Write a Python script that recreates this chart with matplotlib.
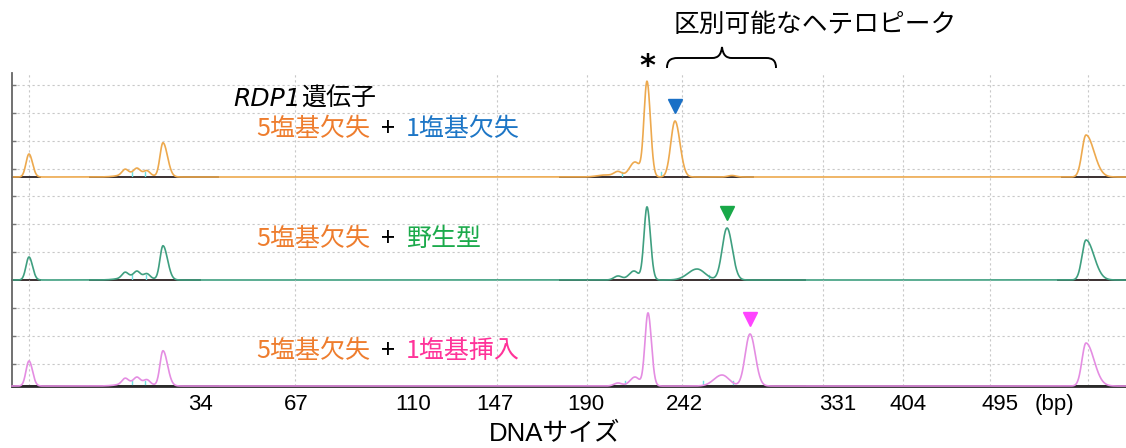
import matplotlib
matplotlib.use('Agg')
import matplotlib.pyplot as plt
from matplotlib.path import Path
from matplotlib.patches import PathPatch
import numpy as np

JP = ['Noto Sans CJK JP', 'DejaVu Sans']
LAT = ['Liberation Sans', 'Noto Sans CJK JP']
plt.rcParams['font.family'] = JP

# scan axis of the electropherogram window (scan points)
scan_min, scan_max = 12, 1126

# size ladder labels and where they sit on the scan axis
size_labels = ['34', '67', '110', '147', '190', '242', '331', '404', '495', '(bp)']
size_label_pos = [200, 296, 413, 495, 586, 684, 838, 908, 1000, 1054]
grid_x = [29, 200, 295, 413, 497, 587, 682, 823, 903, 990, 1088]

# peaks: (scan position, height rfu, left width, right width)
peaks_del1 = [(29, 23, 3.0, 3.5), (125, 5, 3, 3), (137, 5, 3, 3), (147, 4, 3, 3),
              (135, 4, 12, 12), (163, 34, 3.0, 4.5), (605, 2, 8, 8), (618, 5, 4, 4),
              (635, 15, 5.5, 5), (647, 95, 3.0, 3.4), (675, 56, 4.2, 5.0),
              (732, 1.5, 4, 4), (1086, 42, 4, 8)]
peaks_wt = [(29, 23, 3.0, 3.5), (125, 5, 3, 3), (137, 5, 3, 3), (147, 4, 3, 3),
            (135, 4, 12, 12), (163, 34, 3.0, 4.5), (618, 4, 4, 4), (634, 9, 5, 4.5),
            (647, 73, 3.0, 3.4), (697, 11, 9, 8), (727, 52, 4.8, 5.3),
            (1086, 40, 4, 8)]
peaks_ins1 = [(29, 25, 3.0, 3.5), (125, 5, 3, 3), (137, 5, 3, 3), (147, 4, 3, 3),
              (135, 4, 12, 12), (163, 35, 3.0, 4.5), (618, 3, 4, 4), (635, 9, 5, 4.5),
              (648, 73, 3.0, 3.4), (722, 11, 8, 7), (750, 52, 4.8, 5.3),
              (1086, 43, 4, 8)]
traces = [peaks_del1, peaks_wt, peaks_ins1]

# hetero peak of each sample (scan position, height)
hetero_peaks = [(675, 56), (727, 52), (750, 52)]
common_peak = (647, 95)

# baseline windows and peak-call ticks of the analysis software
baseline_spans = [
    [(12, 40), (90, 218), (560, 753), (1062, 1126)],
    [(12, 40), (90, 200), (560, 805), (1058, 1126)],
    [(12, 40), (90, 218), (560, 805), (1062, 1126)],
]
call_ticks = [[132, 145, 622, 661], [132, 146, 709], [132, 145, 625, 703, 733]]

# y grid per panel (rfu) and panel height
y_grid = [[8, 36, 64, 92], [28, 56, 84], [22, 50, 78]]
panel_px = [(73, 177), (177, 280), (280, 386)]

trace_colors = ['#EDA94E', '#3F9F80', '#E48DE2']
orange, blue, green, pink = '#EE7D2E', '#1D76C6', '#1BAA4B', '#FF3399'
tri_colors = ['#1A70C6', '#18A848', '#FF44FF']
label_lines = [
    [('5塩基欠失', orange), ('+', 'black'), ('1塩基欠失', blue)],
    [('5塩基欠失', orange), ('+', 'black'), ('野生型', green)],
    [('5塩基欠失', orange), ('+', 'black'), ('1塩基挿入', pink)],
]
label_y = [129, 239, 351]

W, H = 1126, 448
fig = plt.figure(figsize=(W / 100, H / 100), dpi=100)

x = np.linspace(scan_min, scan_max, 4000)
axes = []
for i, (top, bot) in enumerate(panel_px):
    ax = fig.add_axes([scan_min / W, 1 - bot / H, (scan_max - scan_min) / W, (bot - top) / H])
    ax.set_facecolor('none')
    y = np.zeros_like(x)
    for p, h, sl, sr in traces[i]:
        s = np.where(x < p, sl, sr)
        y += h * np.exp(-0.5 * ((x - p) / s) ** 2)
    ax.set_xlim(scan_min, scan_max)
    ax.set_ylim(0, bot - top)
    for a, b in baseline_spans[i]:
        ax.plot([a, b], [0, 0], color='#3a3030', lw=1.4, zorder=2, clip_on=False)
    for c in call_ticks[i]:
        ax.plot([c, c], [0, 5], color='#6fe0e0', lw=1.0, zorder=2)
    ax.plot(x, y, color=trace_colors[i], lw=1.2, zorder=3, clip_on=False)

    ax.set_yticks(y_grid[i])
    ax.set_yticklabels([])
    ax.tick_params(axis='y', direction='in', length=3, color='#777777', width=1)
    ax.set_xticks(grid_x, minor=True)
    ax.set_xticks(size_label_pos)
    ax.tick_params(axis='x', which='both', length=0)
    ax.grid(which='minor', axis='x', color='#c8c8c8', ls=(0, (2, 2.5)), lw=0.8)
    ax.grid(which='major', axis='y', color='#c8c8c8', ls=(0, (2, 2.5)), lw=0.8)
    ax.grid(which='major', axis='x', visible=False)
    ax.set_axisbelow(True)
    for s in ['top', 'right', 'bottom']:
        ax.spines[s].set_visible(False)
    ax.spines['left'].set_color('#666666')
    ax.spines['left'].set_linewidth(1.3)

    hx, hy = hetero_peaks[i]
    ax.plot([hx], [hy + 15], marker='v', ms=10, color=tri_colors[i],
            mec=tri_colors[i], clip_on=False, zorder=5)
    axes.append(ax)

ax_bot = axes[-1]
ax_bot.spines['bottom'].set_visible(True)
ax_bot.spines['bottom'].set_color('#2a2a2a')
ax_bot.spines['bottom'].set_linewidth(2)
ax_bot.set_xticklabels(size_labels, family=LAT, fontsize=16)
ax_bot.tick_params(axis='x', which='major', pad=6)
for ax in axes[:-1]:
    ax.set_xticklabels([])

# asterisk over the shared peak
axes[0].annotate('*', xy=common_peak, xytext=(0, 1), textcoords='offset points',
                 ha='center', va='bottom', fontsize=22, fontweight='bold',
                 family=['DejaVu Sans'], annotation_clip=False)

# overlay in pixel coordinates for titles and the brace
ov = fig.add_axes([0, 0, 1, 1])
ov.set_xlim(0, W)
ov.set_ylim(H, 0)
ov.axis('off')
ov.set_facecolor('none')

ov.text(815, 25, '区別可能なヘテロピーク', ha='center', va='center', fontsize=18.5)
brace = Path([(667, 68), (667, 61), (670, 58), (678, 58), (712, 58),
              (718, 58), (721, 55), (722, 47), (723, 55), (726, 58), (732, 58),
              (766, 58), (773, 58), (776, 61), (776, 68)],
             [Path.MOVETO, Path.CURVE4, Path.CURVE4, Path.CURVE4, Path.LINETO,
              Path.CURVE4, Path.CURVE4, Path.CURVE4, Path.CURVE4, Path.CURVE4, Path.CURVE4,
              Path.LINETO, Path.CURVE4, Path.CURVE4, Path.CURVE4])
ov.add_patch(PathPatch(brace, fc='none', ec='black', lw=1.4))

t = ov.text(233, 99, 'RDP1', ha='left', va='center', fontsize=18, style='italic',
            family=['DejaVu Sans'])
ov.annotate('遺伝子', xy=(1, 0.5), xycoords=t, ha='left', va='center', fontsize=18)

for parts, yy in zip(label_lines, label_y):
    prev = ov.text(256, yy, parts[0][0], ha='left', va='center', fontsize=18, color=parts[0][1])
    for txt, col in parts[1:]:
        prev = ov.annotate(txt, xy=(1, 0.5), xycoords=prev, xytext=(8, 0),
                           textcoords='offset points', ha='left', va='center',
                           fontsize=18, color=col)

ov.text(555, 434, 'DNAサイズ', ha='center', va='center', fontsize=18.5, family=LAT)

fig.savefig('out.png', dpi=100)
